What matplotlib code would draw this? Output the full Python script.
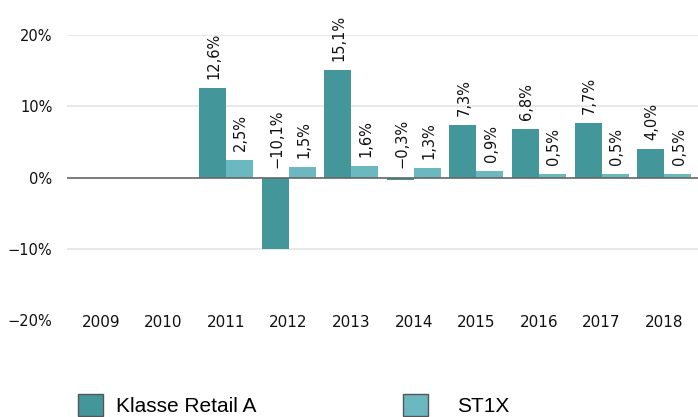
import numpy as np
import matplotlib
matplotlib.use("Agg")
import matplotlib.pyplot as plt
from matplotlib.patches import Patch

years = ["2009", "2010", "2011", "2012", "2013", "2014", "2015", "2016", "2017", "2018"]
klasse_retail_a = [np.nan, np.nan, 12.6, -10.1, 15.1, -0.3, 7.3, 6.8, 7.7, 4.0]
st1x = [np.nan, np.nan, 2.5, 1.5, 1.6, 1.3, 0.9, 0.5, 0.5, 0.5]
series_names = ["Klasse Retail A", "ST1X"]
yticks = [-20, -10, 0, 10, 20]

c_dark = "#43979A"
c_light = "#6BB8C1"

W, H = 698, 417
fig = plt.figure(figsize=(W / 100, H / 100), dpi=100)
ax = fig.add_axes([67 / W, 1 - 320 / H, (W - 67) / W, (320 - 35) / H])

x = np.arange(len(years))
w = 0.43
ax.bar(x - w / 2, klasse_retail_a, width=w, color=c_dark, zorder=3)
ax.bar(x + w / 2, st1x, width=w, color=c_light, zorder=3)

def fmt(v):
    s = f"{v:.1f}".replace(".", ",").replace("-", "\u2212")
    return s + "%"

for xs, vals in ((x - w / 2, klasse_retail_a), (x + w / 2, st1x)):
    for xi, v in zip(xs, vals):
        if np.isnan(v):
            continue
        ax.annotate(fmt(v), (xi, max(v, 0)), xytext=(1, 6.5), textcoords="offset points",
                    rotation=90, ha="center", va="bottom", fontsize=10.5,
                    color="#111111", family="DejaVu Sans", annotation_clip=False)

ax.set_xlim(-0.54, len(years) - 0.46)
ax.set_ylim(-20, 20)
ax.set_yticks(yticks)
ax.set_yticklabels([("\u2212" if t < 0 else "") + f"{abs(t)}%" for t in yticks])
for t in [-10, 10, 20]:
    ax.axhline(t, color="#e4e4e4", lw=1.2, zorder=1)
ax.axhline(0, color="#666666", lw=1.2, zorder=4)
ax.set_xticks(x)
ax.set_xticklabels(years)
for s in ax.spines.values():
    s.set_visible(False)
ax.tick_params(axis="both", length=0, labelsize=10.5, colors="#111111")
ax.tick_params(axis="x", pad=-3.5, labelsize=11)
ax.tick_params(axis="y", pad=10.5)

h1 = Patch(facecolor=c_dark, edgecolor="#555555", linewidth=1)
h2 = Patch(facecolor=c_light, edgecolor="#555555", linewidth=1)
leg_kw = dict(frameon=False, loc="center left", borderpad=0, borderaxespad=0,
              handlelength=1.2, handleheight=1.2,
              prop={"family": "Liberation Sans", "size": 15})
leg1 = fig.legend([h1], [series_names[0]], bbox_to_anchor=(78 / W, 1 - 405 / H),
                  handletextpad=0.6, **leg_kw)
leg2 = fig.legend([h2], [series_names[1]], bbox_to_anchor=(403 / W, 1 - 405 / H),
                  handletextpad=1.4, **leg_kw)

fig.savefig("out.png", dpi=100)
